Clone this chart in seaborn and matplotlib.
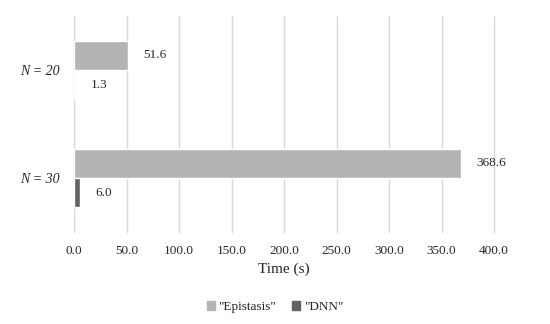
import matplotlib
matplotlib.use("Agg")
import matplotlib.pyplot as plt
import seaborn as sns
import pandas as pd

categories = ["N = 20", "N = 30"]
series = ['"Epistasis"', '"DNN"']
epistasis_time = [51.6, 368.6]
dnn_time = [1.3, 6.0]
x_ticks = [0, 50, 100, 150, 200, 250, 300, 350, 400]

df = pd.DataFrame({
    "N": categories * 2,
    "Model": [series[0]] * 2 + [series[1]] * 2,
    "Time": epistasis_time + dnn_time,
})

sns.set_style("white")
plt.rcParams["font.family"] = ["Liberation Serif", "DejaVu Serif"]

fig = plt.figure(figsize=(5.5, 3.24), dpi=100)
ax = fig.add_axes([74 / 550, 1 - 232 / 324, 420 / 550, 216 / 324])

sns.barplot(data=df, x="Time", y="N", hue="Model", orient="h",
            palette=["#b4b4b4", "#626262"], width=0.54, ax=ax,
            saturation=1, legend=False)

for c in ax.containers:
    ax.bar_label(c, fmt="%.1f", padding=11, fontsize=9.5)

ax.set_xlim(0, 400)
ax.set_xticks(x_ticks)
ax.set_xticklabels([f"{t:.1f}" for t in x_ticks], fontsize=9.5)
ax.tick_params(axis="x", length=0, pad=9)
ax.tick_params(axis="y", length=0, pad=10)
for lbl in ax.get_yticklabels():
    lbl.set_fontstyle("italic")
    lbl.set_fontsize(10)
ax.set_ylabel("")
ax.set_xlabel("Time (s)", fontsize=11, labelpad=4)
ax.xaxis.grid(True, color="#d9d9d9", linewidth=1)
for gl in ax.get_xgridlines():
    gl.set_clip_on(False)
ax.set_axisbelow(True)
sns.despine(ax=ax, left=True, bottom=True)

handles = [plt.Rectangle((0, 0), 1, 1, color=col) for col in ["#b4b4b4", "#626262"]]
fig.legend(handles, series, loc="center", bbox_to_anchor=(0.5, 1 - 307 / 324),
           ncol=2, frameon=False, fontsize=9.5, handlelength=0.6, handleheight=0.6,
           handletextpad=0.3, columnspacing=1.2)

fig.savefig("out.png", dpi=100)
